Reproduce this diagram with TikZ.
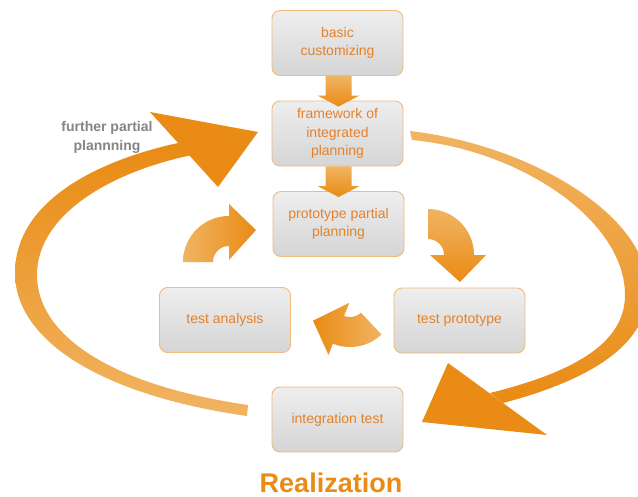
\documentclass[tikz,border=0pt]{standalone}
\usepackage{fontspec}
\setmainfont{Liberation Sans}
\usetikzlibrary{calc}
\definecolor{ordark}{HTML}{E98B14}
\definecolor{orlight}{HTML}{F1B462}
\definecolor{ortext}{HTML}{E4812B}
\definecolor{boxline}{HTML}{F2BA7A}
\definecolor{boxtop}{HTML}{EEEEEE}
\definecolor{boxbot}{HTML}{D5D5D5}
\definecolor{graytext}{HTML}{858585}
% cx, cy, phi, start angle, shading options
\newcommand\cycarrow[5]{%
 \shade[#5] plot[domain=#4:0,samples=24] ({#1+46*cos(\x+#3)},{#2+46*sin(\x+#3)})
  -- ({#1+58*cos(#3)},{#2+58*sin(#3)})
  -- ({#1+41.87*cos(40.16+#3)},{#2+41.87*sin(40.16+#3)})
  -- ({#1+2*cos(#3)},{#2+2*sin(#3)})
  -- plot[domain=0:#4,samples=24] ({#1+16*cos(\x+#3)},{#2+16*sin(\x+#3)}) -- cycle;}
\tikzset{
  stepbox/.style={draw=boxline, line width=0.9pt, rounded corners=8pt,
    top color=boxtop, bottom color=boxbot, minimum width=131pt, minimum height=65pt,
    text=ortext, align=center, font=\fontsize{14}{18.5}\selectfont, inner sep=2pt},
}
\begin{document}
\begin{tikzpicture}[x=1pt,y=-1pt]
\useasboundingbox (0,0) rectangle (638,496);
\fill[white] (0,0) rectangle (638,496);

% boxes
\node[stepbox] (basic) at (337.5,43) {basic\\customizing};
\node[stepbox] (framework) at (337.5,133.5) {framework of\\integrated\\planning};
\node[stepbox] (proto) at (338.5,224) {prototype partial\\planning};
\node[stepbox] (analysis) at (225,320) {test analysis};
\node[stepbox] (testproto) at (459.5,320.5) {test prototype};
\node[stepbox] (integ) at (337.5,419.5) {integration test};

% straight block arrows
\shade[top color=orlight, bottom color=ordark]
  ($(basic.south)+(-12,0)$) -- ($(basic.south)+(14,0)$) -- ($(framework.north)+(14,-5)$)
  -- ($(framework.north)+(22,-5)$) -- ($(framework.north)+(1,6)$) -- ($(framework.north)+(-20,-5)$)
  -- ($(framework.north)+(-12,-5)$) -- cycle;
\shade[top color=orlight, bottom color=ordark]
  ($(framework.south)+(-12,0)$) -- ($(framework.south)+(14,0)$) -- ($(proto.north)+(13,-5)$)
  -- ($(proto.north)+(21,-5)$) -- ($(proto.north)+(0,6)$) -- ($(proto.north)+(-21,-5)$)
  -- ($(proto.north)+(-13,-5)$) -- cycle;

% big left arrow (further partial planning)
\shade[top color=ordark, bottom color=orlight]
  (247,416) .. controls (100,395) and (15,340) .. (15,273)
  .. controls (15,200) and (100,160) .. (178,143)
  -- (192,155) .. controls (110,172) and (37,215) .. (37,275)
  .. controls (37,335) and (110,385) .. (248,405) -- cycle;
\fill[ordark] (150,112) -- (258,132) -- (218,187) -- cycle;

% big right arrow
\shade[top color=orlight, bottom color=ordark]
  (410,131) .. controls (530,145) and (648,215) .. (648,290)
  .. controls (648,345) and (590,380) .. (503,403)
  -- (490,393) .. controls (570,373) and (625,345) .. (625,295)
  .. controls (625,220) and (520,150) .. (412,140) -- cycle;
\fill[ordark] (448,363) -- (422,422) -- (547,435) -- cycle;

% cycle arrows
\cycarrow{229}{262}{270}{-90}{left color=orlight, right color=ordark}
\cycarrow{428}{255}{0}{-90}{top color=orlight, bottom color=ordark}
\cycarrow{350}{301}{111.8}{-65}{left color=ordark, right color=orlight}

% labels
\node[font=\fontsize{14}{19}\selectfont\bfseries, text=graytext, align=center] (lbl) at (107,137) {further partial\\plannning};
\node[font=\fontsize{27}{30}\selectfont\bfseries, text=ordark, anchor=base, inner sep=0pt] (real) at (331,492) {Realization};
\end{tikzpicture}
\end{document}
